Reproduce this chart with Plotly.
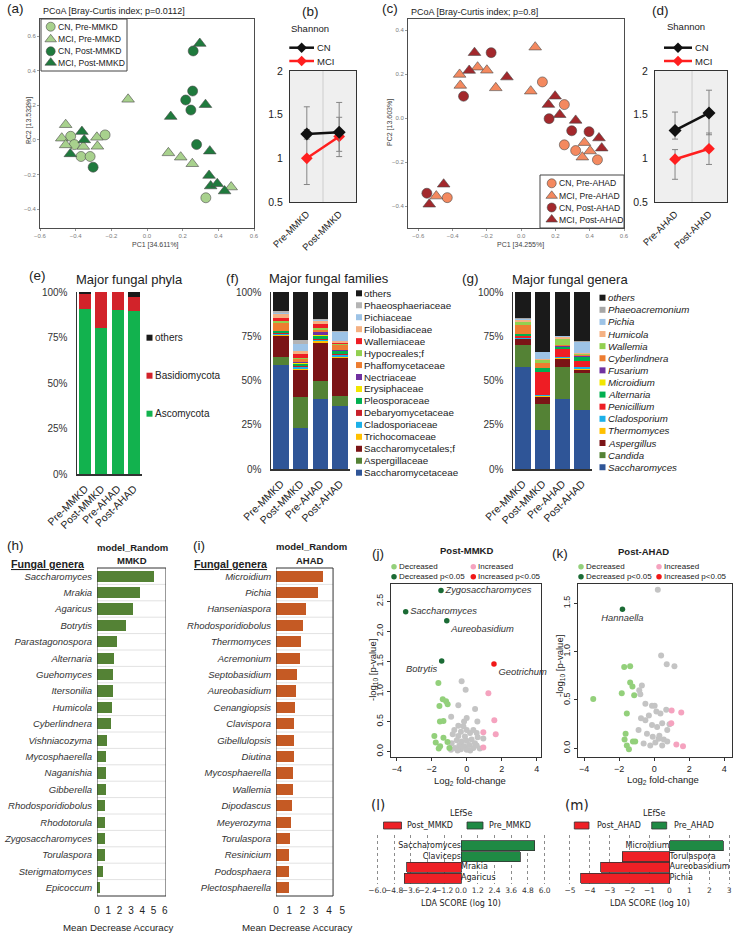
import plotly.graph_objects as go

W, H = 733, 934
ARIAL = 'Liberation Sans, Arial, Helvetica, sans-serif'
DEJAVU = 'DejaVu Sans, Verdana, sans-serif'
TXT = '#222222'

# ======================= DATA =======================
# (a) PCoA, MMKD
pcoa_mmkd_labels = ['CN, Pre-MMKD', 'MCI, Pre-MMKD', 'CN, Post-MMKD', 'MCI, Post-MMKD']
mmkd_cn_pre_pc1 = [-0.428, -0.407, -0.370, -0.319, -0.235, 0.330]
mmkd_cn_pre_pc2 = [0.021, -0.027, -0.096, -0.096, 0.029, -0.335]
mmkd_mci_pre_pc1 = [-0.456, -0.478, -0.456, -0.357, -0.281, -0.278, -0.106, 0.120, 0.189, 0.254, 0.472]
mmkd_mci_pre_pc2 = [0.088, 0.010, -0.029, -0.038, 0.015, -0.037, 0.235, -0.075, -0.100, -0.138, -0.273]
mmkd_cn_post_pc1 = [0.259, 0.256, 0.217, 0.246, 0.278, -0.302]
mmkd_cn_post_pc2 = [0.515, 0.283, 0.231, 0.173, -0.027, -0.158]
mmkd_mci_post_pc1 = [0.296, 0.328, 0.133, -0.365, -0.352, -0.430, 0.352, 0.348, 0.357, 0.394, 0.435]
mmkd_mci_post_pc2 = [0.558, 0.204, 0.135, 0.048, 0.000, -0.081, -0.065, -0.206, -0.267, -0.254, -0.296]

# (c) PCoA, AHAD
pcoa_ahad_labels = ['CN, Pre-AHAD', 'MCI, Pre-AHAD', 'CN, Post-AHAD', 'MCI, Post-AHAD']
ahad_cn_pre_pc1 = [0.124, 0.252, 0.252, 0.318, 0.445, -0.431]
ahad_cn_pre_pc2 = [0.164, 0.061, -0.122, -0.148, -0.190, -0.362]
ahad_mci_pre_pc1 = [0.082, -0.254, -0.200, -0.359, -0.355, -0.148, 0.056, -0.495, 0.369, 0.402, 0.357]
ahad_mci_pre_pc2 = [0.322, 0.231, 0.217, 0.198, 0.148, 0.137, 0.122, -0.355, -0.112, -0.150, -0.178]
ahad_cn_post_pc1 = [-0.175, -0.336, 0.163, 0.295, 0.396, -0.550]
ahad_cn_post_pc2 = [0.297, 0.099, -0.003, -0.058, -0.062, -0.342]
ahad_mci_post_pc1 = [-0.272, -0.303, -0.083, 0.198, 0.159, 0.225, 0.318, 0.454, 0.470, -0.452, -0.536]
ahad_mci_post_pc2 = [0.297, 0.216, 0.186, 0.099, 0.061, 0.015, -0.011, -0.091, -0.137, -0.301, -0.392]

# (b) / (d) Shannon
shannon_groups = ['CN', 'MCI']
shannon_mmkd_cats = ['Pre-MMKD', 'Post-MMKD']
shannon_mmkd_cn = [1.28, 1.30]
shannon_mmkd_cn_up = [0.31, 0.34]
shannon_mmkd_cn_dn = [0.06, 0.22]
shannon_mmkd_mci = [1.00, 1.25]
shannon_mmkd_mci_up = [0.33, 0.22]
shannon_mmkd_mci_dn = [0.30, 0.23]
shannon_ahad_cats = ['Pre-AHAD', 'Post-AHAD']
shannon_ahad_cn = [1.32, 1.52]
shannon_ahad_cn_up = [0.21, 0.26]
shannon_ahad_cn_dn = [0.10, 0.25]
shannon_ahad_mci = [0.99, 1.11]
shannon_ahad_mci_up = [0.11, 0.18]
shannon_ahad_mci_dn = [0.23, 0.18]
shannon_ticks = [0.5, 1, 1.5, 2]

# (e) phyla, (f) families, (g) genera  (percent, samples order)
samples = ['Pre-MMKD', 'Post-MMKD', 'Pre-AHAD', 'Post-AHAD']
pct_ticks = [0, 25, 50, 75, 100]
phylum_names = ['Ascomycota', 'Basidiomycota', 'others']
phylum_ascomycota = [90.8, 80.0, 90.3, 89.3]
phylum_basidiomycota = [8.2, 19.8, 9.5, 8.1]
phylum_others = [1.0, 0.2, 0.2, 2.6]

family_names = ['Saccharomycetaceae', 'Aspergillaceae', 'Saccharomycetales;f', 'Trichocomaceae',
                'Cladosporiaceae', 'Debaryomycetaceae', 'Pleosporaceae', 'Erysiphaceae', 'Nectriaceae',
                'Phaffomycetaceae', 'Hypocreales;f', 'Wallemiaceae', 'Filobasidiaceae', 'Pichiaceae',
                'Phaeosphaeriaceae', 'others']
family_pct = [
    [58.9, 23.4, 39.6, 35.8],
    [4.1, 17.0, 10.2, 5.7],
    [12.3, 15.6, 21.3, 21.3],
    [0.4, 0.4, 1.2, 0.4],
    [0.6, 1.0, 0.8, 1.2],
    [0.4, 1.0, 0.6, 0.6],
    [1.0, 1.2, 1.2, 1.4],
    [0.2, 0.3, 1.0, 0.3],
    [0.3, 0.3, 1.5, 0.6],
    [4.5, 1.8, 1.2, 2.9],
    [1.0, 0.8, 0.8, 0.5],
    [1.8, 1.9, 2.8, 0.6],
    [1.8, 1.9, 1.5, 1.0],
    [0.8, 3.8, 0.5, 5.0],
    [1.0, 2.6, 0.5, 0.4],
    [10.9, 27.0, 15.3, 22.3],
]
genus_names = ['Saccharomyces', 'Candida', 'Aspergillus', 'Thermomyces', 'Cladosporium', 'Penicillium',
               'Alternaria', 'Microidium', 'Fusarium', 'Cyberlindnera', 'Wallemia', 'Humicola', 'Pichia',
               'Phaeoacremonium', 'others']
genus_pct = [
    [57.4, 22.1, 39.6, 33.4],
    [12.8, 14.7, 17.8, 20.8],
    [3.0, 4.1, 4.9, 1.8],
    [0.4, 0.4, 0.4, 0.3],
    [0.6, 0.6, 0.4, 1.2],
    [0.8, 13.0, 4.5, 3.7],
    [1.0, 2.0, 1.3, 1.9],
    [0.3, 0.2, 0.2, 0.2],
    [0.2, 0.2, 0.6, 0.3],
    [5.0, 2.5, 0.4, 1.0],
    [1.8, 1.8, 3.5, 0.4],
    [1.0, 0.3, 1.0, 0.8],
    [0.6, 4.0, 0.3, 6.0],
    [0.5, 0.3, 0.3, 0.3],
    [14.6, 33.8, 24.8, 27.9],
]

# (h) / (i) random forest
rf_mmkd_genera = ['Saccharomyces', 'Mrakia', 'Agaricus', 'Botrytis', 'Parastagonospora', 'Alternaria',
                  'Guehomyces', 'Itersonilia', 'Humicola', 'Cyberlindnera', 'Vishniacozyma', 'Mycosphaerella',
                  'Naganishia', 'Gibberella', 'Rhodosporidiobolus', 'Rhodotorula', 'Zygosaccharomyces',
                  'Torulaspora', 'Sterigmatomyces', 'Epicoccum']
rf_mmkd_mda = [5.03, 3.82, 3.15, 2.59, 1.76, 1.50, 1.41, 1.41, 1.32, 1.26, 0.85, 0.76, 0.76, 0.76,
               0.74, 0.74, 0.68, 0.68, 0.53, 0.29]
rf_mmkd_ticks = [0, 1, 2, 3, 4, 5, 6]
rf_ahad_genera = ['Microidium', 'Pichia', 'Hanseniaspora', 'Rhodosporidiobolus', 'Thermomyces', 'Acremonium',
                  'Septobasidium', 'Aureobasidium', 'Cenangiopsis', 'Clavispora', 'Gibellulopsis', 'Diutina',
                  'Mycosphaerella', 'Wallemia', 'Dipodascus', 'Meyerozyma', 'Torulaspora', 'Resinicium',
                  'Podosphaera', 'Plectosphaerella']
rf_ahad_mda = [3.57, 3.19, 2.29, 2.04, 1.91, 1.83, 1.56, 1.53, 1.41, 1.38, 1.38, 1.38, 1.31, 1.31,
               1.21, 1.11, 1.08, 0.95, 0.95, 0.95]
rf_ahad_ticks = [0, 1, 2, 3, 4, 5]

# (j) volcano Post-MMKD
volc_legend = ['Decreased', 'Decreased p<0.05', 'Increased', 'Increased p<0.05']
j_gray_fc = [-0.29, -0.06, -0.48, 0.48, -0.89, 0.00, -0.48, -0.71, 0.61, 0.57, 0.95, -0.15, -0.19, 0.00,
             -0.33, -0.80, -0.48, -0.10, 0.19, 0.38, -0.57, -0.29, 0.00, 0.28, 0.63, -0.86, -0.42, -0.14,
             0.15, 0.47, -0.67, -0.33, 0.00, 0.38, 0.57, -0.52, 0.20, 0.75, -0.90]
j_gray_p = [1.17, 1.03, 0.77, 0.71, 0.58, 0.56, 0.43, 0.36, 0.50, 0.31, 0.22, 0.50, 0.42, 0.36,
            0.33, 0.29, 0.26, 0.25, 0.31, 0.36, 0.19, 0.17, 0.18, 0.20, 0.24, 0.14, 0.10, 0.09,
            0.11, 0.14, 0.06, 0.04, 0.03, 0.06, 0.10, 0.02, 0.02, 0.05, 0.03]
j_dec_fc = [-1.62, -1.37, -1.18, -1.09, -1.56, -1.53, -1.33, -1.85, -1.33, -1.77, -1.10, -1.52, -0.99, -1.60]
j_dec_p = [1.14, 0.87, 0.84, 0.79, 0.76, 0.50, 0.51, 0.26, 0.23, 0.15, 0.16, 0.09, 0.06, 0.05]
j_inc_fc = [1.24, 1.58, 1.66, 0.95, 0.95]
j_inc_p = [0.97, 0.52, 0.29, 0.32, 0.07]
j_sigdec_names = ['Zygosaccharomyces', 'Saccharomyces', 'Aureobasidium', 'Botrytis']
j_sigdec_fc = [-1.47, -3.49, -1.14, -1.43]
j_sigdec_p = [2.68, 2.33, 2.18, 1.51]
j_siginc_names = ['Geotrichum']
j_siginc_fc = [1.56]
j_siginc_p = [1.46]

# (k) volcano Post-AHAD
k_gray_fc = [0.21, 0.40, 0.72, 1.16, -0.70, -0.85, -0.79, -0.50, -0.12, 0.03, 0.69, 0.13, 0.36, -0.75,
             -0.50, -0.12, 0.17, 0.46, 0.88, 0.75, -0.89, -0.41, -0.08, 0.26, 0.55, -0.60, -0.22, 0.07,
             0.46, 0.75, -0.30, 0.30]
k_gray_p = [1.64, 0.96, 0.87, 0.85, 0.65, 0.60, 0.56, 0.46, 0.44, 0.44, 0.40, 0.38, 0.36, 0.31,
            0.29, 0.24, 0.22, 0.26, 0.25, 0.19, 0.19, 0.15, 0.12, 0.10, 0.09, 0.05, 0.03, 0.06,
            0.03, 0.07, 0.34, 0.13]
k_dec_fc = [-3.48, -1.71, -1.37, -1.37, -1.24, -1.85, -1.14, -1.56, -1.63, -1.69, -1.56, -1.44, -1.21, -1.08]
k_dec_p = [0.51, 0.84, 0.85, 0.68, 0.64, 0.57, 0.55, 0.36, 0.15, 0.09, 0.03, -0.01, 0.07, 0.07]
k_inc_fc = [1.00, 1.55, 0.98, 1.27, 1.65]
k_inc_p = [0.39, 0.37, 0.26, 0.04, 0.02]
k_sigdec_names = ['Hannaella']
k_sigdec_fc = [-1.81]
k_sigdec_p = [1.44]

# (l) / (m) LEfSe
lefse_mmkd_taxa = ['Saccharomyces', 'Claviceps', 'Mrakia', 'Agaricus']
lefse_mmkd_lda = [5.30, 4.24, -3.90, -4.07]
lefse_mmkd_classes = ['Post_MMKD', 'Pre_MMKD']
lefse_mmkd_ticks = [-6.0, -4.8, -3.6, -2.4, -1.2, 0.0, 1.2, 2.4, 3.6, 4.8, 6.0]
lefse_ahad_taxa = ['Microidium', 'Torulaspora', 'Aureobasidium', 'Pichia']
lefse_ahad_lda = [2.70, -2.37, -3.46, -4.45]
lefse_ahad_classes = ['Post_AHAD', 'Pre_AHAD']
lefse_ahad_ticks = [-5, -4, -3, -2, -1, 0, 1, 2, 3]

# ======================= STYLES =======================
GREEN_L, GREEN_D = '#a8d18d', '#1f7a3d'
ORANGE_L, RED_D = '#f4895f', '#a3282c'
PC_SYM = ['circle', 'triangle-up', 'circle', 'triangle-up']
PHYLUM_COLORS = ['#12b24e', '#d2232a', '#1a1a1a']
FAMILY_COLORS = ['#2f5597', '#548235', '#7b1416', '#ffc000', '#1cb0e8', '#c8202a', '#00b050', '#f2e600',
                 '#7030a0', '#ed7d31', '#92d050', '#ee1d24', '#f4b183', '#9dc3e6', '#b4b4b4', '#1a1a1a']
GENUS_COLORS = ['#2f5597', '#548235', '#7b1416', '#ffc000', '#1cb0e8', '#ee1d24', '#00b050', '#f2e600',
                '#7030a0', '#ed7d31', '#92d050', '#f4b183', '#9dc3e6', '#a6a6a6', '#1a1a1a']
V_LG, V_DG, V_PK, V_RD, V_GR = '#93d07b', '#1b6b35', '#f5a3bf', '#f01818', '#c4c4c4'
L_GREEN, L_RED = '#1f8a44', '#ee2026'

fig = go.Figure()
layout = dict(template='none', width=W, height=H, autosize=False, margin=dict(l=0, r=0, t=0, b=0, pad=0),
              paper_bgcolor='white', plot_bgcolor='rgba(0,0,0,0)', showlegend=False,
              barmode='stack', font=dict(family=ARIAL, color=TXT, size=10))
shapes, annots, leg_markers = [], [], []
_n = [0]


def make_axes(box, xa, ya):
    x0, x1, y0, y1 = box
    _n[0] += 1
    s = '' if _n[0] == 1 else str(_n[0])
    base = dict(showgrid=False, zeroline=False, fixedrange=True, automargin=False)
    X = dict(base); X.update(xa); X.update(domain=[x0 / W, x1 / W], anchor='y' + s)
    Y = dict(base); Y.update(ya); Y.update(domain=[1 - y1 / H, 1 - y0 / H], anchor='x' + s)
    layout['xaxis' + s] = X
    layout['yaxis' + s] = Y
    return 'x' + s, 'y' + s


def note(x, y, t, size=10, xanchor='center', yanchor='middle', family=ARIAL, color=TXT, angle=0):
    annots.append(dict(x=x / W, y=1 - y / H, xref='paper', yref='paper', text=t, showarrow=False,
                       xanchor=xanchor, yanchor=yanchor, textangle=angle, borderpad=0,
                       font=dict(size=size, family=family, color=color)))


def prect(x0, y0, x1, y1, line='#444444', fill='rgba(0,0,0,0)', lw=1):
    shapes.append(dict(type='rect', xref='paper', yref='paper', x0=x0 / W, x1=x1 / W,
                       y0=1 - y1 / H, y1=1 - y0 / H, line=dict(color=line, width=lw), fillcolor=fill,
                       layer='above'))


# ======================= (a) & (c) PCoA =======================
def pcoa(box, xr, yr, xs_list, ys_list, colors, labels, leg_box, leg_x, leg_ys, title, title_xy,
         xtitle, xt_xy, ytitle, yt_xy):
    pc = dict(showline=True, mirror=True, linecolor='#4d4d4d', linewidth=1, ticks='outside', ticklen=2,
              tickcolor='#9a9a9a', tickfont=dict(size=6, color='#7a7a7a'), tickformat='.1f', dtick=0.2, tick0=0)
    xa, ya = make_axes(box, dict(pc, range=xr), dict(pc, range=yr))
    for xs, ys, col, sym in zip(xs_list, ys_list, colors, PC_SYM):
        fig.add_trace(go.Scatter(x=xs, y=ys, mode='markers', xaxis=xa, yaxis=ya, hoverinfo='skip',
                                 marker=dict(symbol=sym, size=11 if 'tri' in sym else 10, color=col,
                                             line=dict(color='#4a4a4a', width=0.6))))
    prect(*leg_box)
    for lab, col, sym, ly in zip(labels, colors, PC_SYM, leg_ys):
        leg_markers.append((leg_x, ly, sym, 10 if 'tri' in sym else 9, col, '#4a4a4a', 0.6))
        note(leg_x + 6, ly, lab, size=8.6, xanchor='left')
    note(title_xy[0], title_xy[1], title, size=9, xanchor='left')
    note(xt_xy[0], xt_xy[1], xtitle, size=7, color='#444')
    note(yt_xy[0], yt_xy[1], ytitle, size=7, color='#444', angle=-90)


pcoa((40, 254, 19, 228), [-0.6, 0.6], [-0.51, 0.70],
     [mmkd_cn_pre_pc1, mmkd_mci_pre_pc1, mmkd_cn_post_pc1, mmkd_mci_post_pc1],
     [mmkd_cn_pre_pc2, mmkd_mci_pre_pc2, mmkd_cn_post_pc2, mmkd_mci_post_pc2],
     [GREEN_L, GREEN_L, GREEN_D, GREEN_D], pcoa_mmkd_labels,
     (41, 19, 127, 71), 50.7, [26.7, 39.3, 51.3, 62.7],
     'PCoA [Bray-Curtis index; p=0.0112]', (42, 11), 'PC1 [34.611%]', (155, 245),
     'PC2 [13.532%]', (29, 121))
pcoa((408, 624, 19, 228), [-0.66, 0.6], [-0.50, 0.45],
     [ahad_cn_pre_pc1, ahad_mci_pre_pc1, ahad_cn_post_pc1, ahad_mci_post_pc1],
     [ahad_cn_pre_pc2, ahad_mci_pre_pc2, ahad_cn_post_pc2, ahad_mci_post_pc2],
     [ORANGE_L, ORANGE_L, RED_D, RED_D], pcoa_ahad_labels,
     (540, 175, 624, 228), 551.7, [183.3, 195.8, 207.5, 219.5],
     'PCoA [Bray-Curtis index; p=0.8]', (410, 12), 'PC1 [34.255%]', (520, 245),
     'PC2 [13.603%]', (390, 123))
note(15, 9, '(a)', size=13.5)
note(390, 9, '(c)', size=13.5)


# ======================= (b) & (d) Shannon =======================
def shannon(box, xr, cats, cn, cn_p, cn_m, mci, mci_p, mci_m, label_xy, title_xy, leg_x0, leg_x1):
    xa, ya = make_axes(box,
                       dict(type='category', categoryorder='array', categoryarray=cats, range=xr,
                            showline=True, mirror=True, linecolor='#333', linewidth=1, tickangle=-45,
                            tickfont=dict(size=9.5, color=TXT), ticks='outside', ticklen=2,
                            tickcolor='rgba(0,0,0,0)'),
                       dict(range=[0.5, 2], tickvals=shannon_ticks, ticktext=[f'{v:g}' for v in shannon_ticks],
                            showline=True, mirror=True, linecolor='#333', linewidth=1,
                            tickfont=dict(size=10.5, color=TXT), ticks='outside', ticklen=4,
                            tickcolor='rgba(0,0,0,0)'))
    shapes.append(dict(type='rect', xref=xa + ' domain', yref=ya + ' domain', x0=0, x1=1, y0=0, y1=1,
                       fillcolor='#efefef', line=dict(width=0), layer='below'))
    shapes.append(dict(type='line', xref=xa, yref=ya + ' domain', x0=0.5, x1=0.5, y0=0, y1=1,
                       line=dict(color='#cdcdcd', width=1), layer='below'))
    for vals, p, m, col, size in [(mci, mci_p, mci_m, '#ff1f1f', 9), (cn, cn_p, cn_m, '#111111', 10)]:
        fig.add_trace(go.Scatter(x=cats, y=vals, mode='lines+markers', xaxis=xa, yaxis=ya, hoverinfo='skip',
                                 line=dict(color=col, width=2.5),
                                 marker=dict(symbol='diamond', size=size, color=col),
                                 error_y=dict(type='data', symmetric=False, array=p, arrayminus=m,
                                              color='#858585', thickness=1, width=3)))
    note(label_xy[0], label_xy[1], label_xy[2], size=13.5)
    note(title_xy[0], title_xy[1], 'Shannon', size=9.5)
    for g, col, yy in zip(shannon_groups, ['#111111', '#ff1f1f'], [47.7, 61]):
        leg_markers.append(('line', leg_x0, leg_x1, yy, col))
        leg_markers.append(((leg_x0 + leg_x1) / 2, yy, 'diamond', 8, col, col, 0))
        note(leg_x1 + 1.5, yy, g, size=9.5, xanchor='left')


shannon((290, 356, 71, 202), [-0.52, 1.52], shannon_mmkd_cats, shannon_mmkd_cn, shannon_mmkd_cn_up,
        shannon_mmkd_cn_dn, shannon_mmkd_mci, shannon_mmkd_mci_up, shannon_mmkd_mci_dn,
        (310, 12, '(b)'), (310, 28), 289.3, 314)
shannon((655, 727, 71, 202), [-0.59, 1.53], shannon_ahad_cats, shannon_ahad_cn, shannon_ahad_cn_up,
        shannon_ahad_cn_dn, shannon_ahad_mci, shannon_ahad_mci_up, shannon_ahad_mci_dn,
        (660, 11, '(d)'), (686, 27), 664, 692)


# ======================= (e) (f) (g) stacked composition =======================
def stacked(box, series, colors, width, xfs):
    xa, ya = make_axes(box,
                       dict(type='category', categoryorder='array', categoryarray=samples, range=[-0.5, 3.5],
                            showline=True, linecolor='#333', linewidth=1.5, tickangle=-45,
                            tickfont=dict(size=xfs, color=TXT), ticks='outside', ticklen=3,
                            tickcolor='rgba(0,0,0,0)'),
                       dict(range=[0, 100], tickvals=pct_ticks, ticktext=[f'{v}%' for v in pct_ticks],
                            showline=True, linecolor='#333', linewidth=1.5,
                            tickfont=dict(size=10, color='#333'), ticks='outside', ticklen=6,
                            tickcolor='rgba(0,0,0,0)'))
    for vals, col in zip(series, colors):
        fig.add_trace(go.Bar(x=samples, y=vals, xaxis=xa, yaxis=ya, width=width, hoverinfo='skip',
                             marker=dict(color=col, line=dict(width=0))))


stacked((77, 142, 292, 474), [phylum_ascomycota, phylum_basidiomycota, phylum_others], PHYLUM_COLORS, 0.74, 10.5)
stacked((271, 350, 292, 469), family_pct, FAMILY_COLORS, 0.78, 10.5)
stacked((513, 592, 292, 469), genus_pct, GENUS_COLORS, 0.78, 10.5)

note(37, 275, '(e)', size=13.5)
note(129, 279, 'Major fungal phyla', size=13)
note(232, 278, '(f)', size=13.5)
note(329, 278, 'Major fungal families', size=13)
note(470, 278, '(g)', size=13.5)
note(570, 279, 'Major fungal genera', size=13)

for name, col, yy in zip(phylum_names[::-1], PHYLUM_COLORS[::-1], [337.7, 375.7, 413.7]):
    leg_markers.append((149.5, yy, 'square', 6, col, col, 0))
    note(154, yy, name, size=10, xanchor='left')
for i, (name, col) in enumerate(zip(family_names[::-1], FAMILY_COLORS[::-1])):
    yy = 293.3 + 11.96 * i
    leg_markers.append((359, yy, 'square', 6, col, col, 0))
    note(362.8, yy, name, size=9.8, xanchor='left')
for i, (name, col) in enumerate(zip(genus_names[::-1], GENUS_COLORS[::-1])):
    yy = 297.7 + 12.11 * i
    leg_markers.append((602.5, yy, 'square', 6, col, col, 0))
    note(606.7, yy, '<i>' + name + '</i>', size=9.7, xanchor='left')


# ======================= (h) (i) random forest =======================
def rf(box, names, vals, ticks, color, xr, box_xmax):
    xa, ya = make_axes(box,
                       dict(range=xr, tickvals=ticks, showline=False, tickfont=dict(size=10, color=TXT),
                            ticks='outside', ticklen=5, tickcolor='rgba(0,0,0,0)'),
                       dict(type='category', categoryorder='array', categoryarray=names, dtick=1,
                            range=[len(names) - 0.5, -0.5], tickfont=dict(size=9.5, color='#333', style='italic'),
                            ticks='outside', ticklen=2, tickcolor='rgba(0,0,0,0)'))
    for k in range(len(names) - 1):
        shapes.append(dict(type='line', xref=xa, yref=ya, x0=0, x1=box_xmax, y0=k + 0.5, y1=k + 0.5,
                           line=dict(color='#e2e2e2', width=1), layer='below'))
    shapes.append(dict(type='rect', xref=xa, yref=ya + ' domain', x0=0, x1=box_xmax, y0=0, y1=1,
                       line=dict(color='#333', width=1), layer='above'))
    fig.add_trace(go.Bar(x=vals, y=names, orientation='h', xaxis=xa, yaxis=ya, width=0.68,
                         hoverinfo='skip', marker=dict(color=color, line=dict(width=0))))


rf((97, 166, 568, 896), rf_mmkd_genera, rf_mmkd_mda, rf_mmkd_ticks, '#548235', [0, 6.1], 6.1)
rf((276, 345, 568, 896), rf_ahad_genera, rf_ahad_mda, rf_ahad_ticks, '#c55a24', [0, 5.2], 4.3)
note(15, 545, '(h)', size=13.5)
note(199, 545, '(i)', size=13.5)
note(48, 564, '<b><u>Fungal genera</u></b>', size=10.7)
note(231, 564, '<b><u>Fungal genera</u></b>', size=10.7)
note(132, 547, '<b>model_Random</b>', size=9.5)
note(132, 560, '<b>MMKD</b>', size=9.5)
note(311, 546, '<b>model_Random</b>', size=9.5)
note(310, 560, '<b>AHAD</b>', size=9.5)
note(118, 927, 'Mean Decrease Accuracy', size=9.7)
note(297, 927, 'Mean Decrease Accuracy', size=9.7)


# ======================= (j) (k) volcano =======================
def volcano(box, xr, yr, ytv, gray, dec, inc, sigdec, siginc, sigdec_pos, siginc_pos):
    common = dict(showline=True, mirror=True, linecolor='#333', linewidth=1, ticks='outside', ticklen=3,
                  tickcolor='#333', tickfont=dict(size=9, color=TXT))
    xa, ya = make_axes(box, dict(common, range=xr, tickvals=[-4, -2, 0, 2, 4]),
                       dict(common, range=yr, tickvals=ytv, tickformat='.1f', tickangle=-90))
    for (xs, ys), col in [(gray, V_GR), (dec, V_LG), (inc, V_PK)]:
        fig.add_trace(go.Scatter(x=xs, y=ys, mode='markers', xaxis=xa, yaxis=ya, hoverinfo='skip',
                                 marker=dict(size=6, color=col)))
    for (names, xs, ys), col, pos in [(sigdec, V_DG, sigdec_pos), (siginc, V_RD, siginc_pos)]:
        if not names:
            continue
        fig.add_trace(go.Scatter(x=xs, y=ys, text=names, mode='markers+text', textposition=pos,
                                 xaxis=xa, yaxis=ya, hoverinfo='skip', cliponaxis=False,
                                 marker=dict(size=5.5, color=col),
                                 textfont=dict(size=9.4, color='#333', style='italic', family=ARIAL)))


volcano((391, 541, 584, 757), [-4.33, 4.25], [-0.09, 2.79], [0, 0.5, 1.0, 1.5, 2.0, 2.5],
        (j_gray_fc, j_gray_p), (j_dec_fc, j_dec_p), (j_inc_fc, j_inc_p),
        (j_sigdec_names, j_sigdec_fc, j_sigdec_p), (j_siginc_names, j_siginc_fc, j_siginc_p),
        ['middle right', 'middle right', 'bottom right', 'bottom left'], ['bottom right'])
volcano((578, 732, 584, 757), [-4.35, 4.45], [-0.09, 1.70], [0, 0.5, 1.0, 1.5],
        (k_gray_fc, k_gray_p), (k_dec_fc, k_dec_p), (k_inc_fc, k_inc_p),
        (k_sigdec_names, k_sigdec_fc, k_sigdec_p), ([], [], []),
        ['bottom center'], ['bottom center'])
note(378, 553, '(j)', size=13.5)
note(560, 553, '(k)', size=13.5)
note(466, 550, '<b>Post-MMKD</b>', size=9.5)
note(643, 551, '<b>Post-AHAD</b>', size=9.5)
for (lx0, lx1), cols in [((394, 473.3), [V_LG, V_DG, V_PK, V_RD]), ((581, 659), [V_LG, V_DG, V_PK, V_RD])]:
    for i, (lab, col) in enumerate(zip(volc_legend, cols)):
        xx = lx0 if i < 2 else lx1
        yy = 566.7 if i % 2 == 0 else 576.7
        leg_markers.append((xx, yy, 'circle', 5.5, col, col, 0))
        note(xx + 3.5, yy, lab, size=8, xanchor='left')
note(373, 670, '-log<sub>10</sub> [p-value]', size=9.5, angle=-90)
note(560, 666, '-log<sub>10</sub> [p-value]', size=9.5, angle=-90)
note(470, 781, 'Log<sub>2</sub> fold-change', size=9.5)
note(663, 780, 'Log<sub>2</sub> fold-change', size=9.5)


# ======================= (l) (m) LEfSe =======================
def lefse(box, xr, ticks, tfmt, taxa, lda, classes, leg, title_x, xt_x, lab):
    xa, ya = make_axes(box,
                       dict(range=xr, tickvals=ticks, tickformat=tfmt, tickangle=0, showgrid=True,
                            gridcolor='#8c8c8c', griddash='dot', gridwidth=1, showline=False,
                            tickfont=dict(size=7.5, family=DEJAVU, color='#333')),
                       dict(type='category', categoryorder='array', categoryarray=taxa[::-1],
                            range=[-0.52, 3.98], visible=False))
    pos_t = [t for t, v in zip(taxa, lda) if v > 0]
    pos_v = [v for v in lda if v > 0]
    neg_t = [t for t, v in zip(taxa, lda) if v < 0]
    neg_v = [v for v in lda if v < 0]
    for tt, vv, col in [(pos_t, pos_v, L_GREEN), (neg_t, neg_v, L_RED)]:
        fig.add_trace(go.Bar(x=vv, y=tt, orientation='h', xaxis=xa, yaxis=ya, width=0.92, hoverinfo='skip',
                             marker=dict(color=col, line=dict(color='#333', width=0.8))))
    fig.add_trace(go.Scatter(x=[0] * len(pos_t), y=pos_t, text=pos_t, mode='text', textposition='middle left',
                             xaxis=xa, yaxis=ya, hoverinfo='skip', cliponaxis=False,
                             textfont=dict(size=8, family=DEJAVU, color='#222')))
    fig.add_trace(go.Scatter(x=[0] * len(neg_t), y=neg_t, text=neg_t, mode='text', textposition='middle right',
                             xaxis=xa, yaxis=ya, hoverinfo='skip', cliponaxis=False,
                             textfont=dict(size=8, family=DEJAVU, color='#222')))
    (r0, r1, rt), (g0, g1, gt) = leg
    prect(r0, 822, r1, 829, line='#333', fill=L_RED, lw=0.8)
    note(rt, 825.5, classes[0], size=8, xanchor='left', family=DEJAVU)
    prect(g0, 822, g1, 829, line='#333', fill=L_GREEN, lw=0.8)
    note(gt, 825.5, classes[1], size=8, xanchor='left', family=DEJAVU)
    note(title_x, 813, 'LEfSe', size=8, family=DEJAVU)
    note(xt_x, 903, 'LDA SCORE (log 10)', size=8, family=DEJAVU)
    note(lab[0], 805, lab[1], size=13.5, family=DEJAVU)


lefse((376, 546, 835, 884), [-6.1, 6.1], lefse_mmkd_ticks, '.1f', lefse_mmkd_taxa, lefse_mmkd_lda,
      lefse_mmkd_classes, ((383.5, 401.5, 405.7), (467, 483, 488.3)), 460.5, 461, (378, '(l)'))
lefse((565, 733, 835, 884), [-5.25, 3.19], lefse_ahad_ticks, 'd', lefse_ahad_taxa, lefse_ahad_lda,
      lefse_ahad_classes, ((574.3, 589, 595.7), (651.7, 666.7, 672.7)), 654, 650, (577, '(m)'))

# ======================= overlay axes for legend swatches =======================
ox, oy = make_axes((0, W, 0, H), dict(range=[0, W], visible=False), dict(range=[H, 0], visible=False))
for item in leg_markers:
    if item[0] == 'line':
        _, x0, x1, yy, col = item
        fig.add_trace(go.Scatter(x=[x0, x1], y=[yy, yy], mode='lines', xaxis=ox, yaxis=oy, hoverinfo='skip',
                                 cliponaxis=False, line=dict(color=col, width=2.5)))
    else:
        xx, yy, sym, size, col, lc, lw = item
        fig.add_trace(go.Scatter(x=[xx], y=[yy], mode='markers', xaxis=ox, yaxis=oy, hoverinfo='skip',
                                 cliponaxis=False,
                                 marker=dict(symbol=sym, size=size, color=col, line=dict(color=lc, width=lw))))

layout['shapes'] = shapes
layout['annotations'] = annots
fig.update_layout(**layout)
fig.write_html('out.html', include_plotlyjs=True, config=dict(displayModeBar=False, staticPlot=True),
               post_script="document.body.style.margin='0px';document.body.style.padding='0px';")
